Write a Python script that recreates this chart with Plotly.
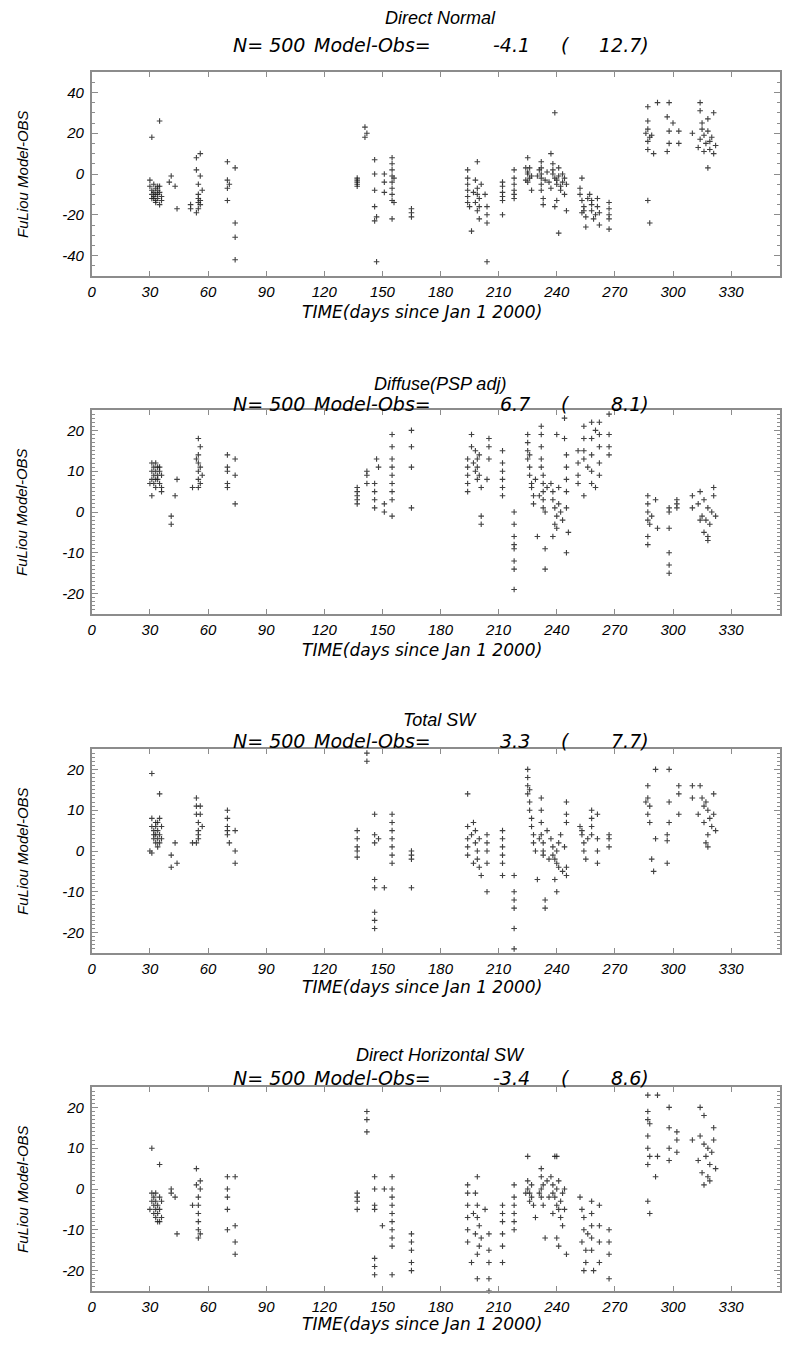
import plotly.graph_objects as go

# ---------------- data (day, Model-Obs) ----------------
direct_normal_pts = [
    (31,18),(35,26),(30,-3),(30,-6),(31,-8),(31,-10),(31,-12),(32,-5),(32,-9),(32,-11),(33,-7),(33,-13),(33,-14),
    (34,-8),(34,-10),(34,-12),(35,-6),(35,-9),(35,-15),(36,-11),(36,-13),(33,-10),(32,-12),(34,-6),
    (41,-1),(43,-6),(44,-17),(40,-4),
    (54,8),(56,10),(54,2),(56,-1),(55,-5),(55,-10),(55,-12),(55,-14),(56,-15),(55,-17),(54,-19),(51,-15),(51,-17),(56,-13),(57,-8),
    (70,6),(70,-3),(70,-7),(70,-13),(71,-5),(74,3),(74,-24),(74,-31),(74,-42),
    (137,-2),(137,-3),(137,-4),(137,-5),(137,-6),
    (141,23),(141,18),(142,20),
    (146,7),(146,0),(146,-8),(146,-16),(146,-23),(147,-43),(147,-21),
    (151,0),(151,-9),(151,-4),
    (155,8),(155,5),(155,2),(155,-1),(155,-4),(155,-7),(155,-10),(155,-13),(156,-14),(155,-22),(156,-2),
    (165,-17),(165,-19),(165,-21),
    (194,2),(194,-2),(194,-5),(194,-8),(194,-11),(194,-14),(195,-16),(196,-28),(199,6),(198,-3),(199,-7),(199,-10),
    (200,-12),(198,-14),(200,-16),(199,-18),(197,-9),(201,-5),(200,-22),
    (204,-16),(204,-20),(204,-24),(204,-43),(203,-10),
    (212,-4),(212,-6),(212,-9),(212,-11),(212,-13),(212,-20),
    (218,2),(218,-2),(218,-5),(218,-8),(218,-10),(218,-12),
    (225,8),(224,3),(225,1),(225,0),(226,-2),(225,-4),(227,-8),(226,3),(227,-1),(224,-3),
    (232,6),(232,3),(232,0),(232,-2),(232,-5),(232,-8),(233,-12),(233,-15),(230,-1),(231,2),(234,-3),(235,1),
    (239,30),(237,10),(238,5),(238,2),(238,0),(239,-2),(240,-3),(240,-5),(241,-1),(241,3),(242,-6),(242,-8),
    (243,0),(243,-4),(244,-10),(244,-2),(240,-13),(239,-16),(241,-29),(236,-4),(237,-7),(245,-18),(245,-5),
    (253,-2),(252,-7),(252,-10),(253,-13),(254,-16),(254,-18),(255,-21),(256,-12),(255,-26),(253,-19),
    (257,-10),(258,-13),(258,-15),(258,-18),(259,-22),(261,-12),(261,-16),(262,-19),(262,-25),(260,-20),
    (267,-14),(267,-17),(267,-20),(267,-22),(267,-27),
    (287,33),(287,26),(287,22),(288,18),(287,16),(289,19),(287,12),(290,10),(287,-13),(288,-24),(292,35),(286,20),
    (298,35),(297,28),(298,21),(298,15),(297,11),(303,21),(303,15),(300,25),
    (310,20),(314,35),(314,31),(318,27),(321,30),(315,22),(316,19),(314,17),(317,15),(319,12),(320,18),
    (321,10),(318,21),(313,13),(316,11),(319,16),(322,14),(318,3),(315,25),
]

diffuse_pts = [
    (31,12),(31,10),(31,8),(32,11),(32,9),(32,7),(33,12),(33,10),(33,6),(34,9),(34,8),(35,11),(35,7),(35,10),
    (36,9),(36,6),(31,4),(36,5),(30,7),(33,8),(34,11),
    (41,-1),(41,-3),(43,4),(44,8),
    (55,18),(56,16),(55,14),(55,12),(55,10),(56,11),(55,8),(56,7),(55,6),(54,13),(52,6),(57,9),
    (70,14),(70,11),(70,10),(70,7),(70,6),(74,13),(74,9),(74,2),
    (137,6),(137,5),(137,4),(137,3),(137,2),
    (142,10),(142,9),(142,7),
    (147,13),(146,7),(146,5),(146,3),(146,1),(148,11),
    (151,2),(151,0),
    (155,19),(155,16),(155,13),(155,11),(155,9),(155,7),(155,5),(155,3),(155,-1),
    (165,20),(165,16),(165,11),(165,1),
    (194,13),(194,11),(194,9),(194,7),(194,5),(196,16),(196,19),(198,15),(199,13),(199,11),(200,9),(198,10),
    (200,14),(199,8),(201,6),(201,-1),(201,-3),(197,12),
    (205,18),(205,16),(205,13),(204,8),
    (212,15),(212,12),(212,10),(212,8),(212,6),(212,4),
    (218,0),(218,-3),(218,-6),(218,-8),(218,-9),(218,-12),(218,-14),(218,-19),
    (225,19),(225,17),(225,15),(225,13),(226,11),(226,9),(227,7),(227,6),(228,4),(228,2),(226,14),(230,-6),(229,8),
    (232,21),(232,19),(232,16),(232,13),(232,11),(233,9),(233,7),(233,5),(233,3),(233,1),(234,0),(234,-9),
    (234,-14),(231,4),(235,6),
    (240,19),(244,23),(244,18),(237,7),(238,5),(238,3),(239,1),(240,-1),(240,-4),(241,2),(241,6),(242,0),
    (239,-3),(243,-2),(238,-6),(245,14),(245,11),(245,8),(245,5),(245,1),(246,-5),(245,-10),
    (251,15),(251,12),(251,9),(251,7),(254,21),(254,18),(254,15),(254,13),(254,4),(258,22),(258,18),(258,14),
    (258,10),(258,7),(262,22),(262,19),(262,16),(262,12),(262,9),(260,6),(256,11),(260,20),
    (267,24),(267,19),(267,16),(267,14),
    (287,4),(287,2),(287,0),(287,-2),(288,-3),(287,-6),(287,-8),(291,3),(292,-4),(289,-1),
    (298,1),(298,0),(298,-4),(298,-10),(298,-13),(298,-15),(302,3),(302,2),(302,1),
    (310,4),(310,1),(314,5),(316,3),(318,1),(315,-1),(317,-2),(319,-3),(320,0),(321,6),(321,4),(316,-5),
    (318,-6),(318,-7),(314,-2),(322,-1),(313,2),
]

total_sw_pts = [
    (31,19),(35,14),(31,8),(31,6),(32,5),(32,4),(32,3),(33,7),(33,6),(33,2),(34,5),(34,3),(34,1),(35,8),
    (35,4),(35,2),(36,6),(36,3),(30,0),(31,-0.5),(33,4),(34,7),
    (41,-1),(41,-4),(43,2),(44,-3),
    (54,13),(54,11),(54,9),(55,7),(55,5),(55,4),(55,3),(56,11),(56,9),(54,2),(52,2),(57,6),
    (70,10),(70,8),(70,6),(70,5),(70,4),(71,2),(74,5),(74,0),(74,-3),
    (137,5),(137,3),(137,1),(137,0),(137,-1.5),
    (142,24),(142,22),
    (146,9),(146,4),(146,2),(148,3),(146,-7),(146,-9),(151,-9),(146,-15),(146,-17),(146,-19),
    (155,9),(155,7),(155,5),(155,3),(155,1),(155,-1),(155,-3),
    (165,0),(165,-1),(165,-2),(165,-9),
    (194,14),(194,6),(194,3),(194,1),(194,-1),(196,4),(197,7),(198,2),(199,0),(199,-2),(200,-4),(198,5),
    (200,3),(201,-6),(197,-3),
    (204,4),(204,2),(204,0),(204,-3),(204,-10),
    (212,5),(212,3),(212,1),(212,-1),(212,-3),(212,-6),
    (218,-6),(218,-10),(218,-12),(218,-14),(218,-19),(218,-24),
    (225,20),(225,18),(225,16),(225,14),(226,12),(226,10),(227,8),(227,6),(228,4),(228,2),(229,0),(230,-7),(226,15),
    (232,13),(232,10),(232,7),(232,4),(233,2),(233,0),(233,-1),(234,-12),(234,-14),(231,3),(235,5),
    (237,3),(238,1),(238,-1),(239,-2),(240,-3),(240,0),(241,2),(241,-4),(242,4),(243,-5),(240,-10),(239,-7),
    (245,12),(245,9),(245,7),(245,-4),(245,-6),(244,1),(236,-2),
    (252,6),(253,4),(254,2),(254,0),(255,-2),(253,5),(258,10),(258,8),(258,6),(258,4),(261,9),(261,3),
    (261,0),(261,-3),(256,3),
    (267,4),(267,3),(267,1),
    (287,16),(287,13),(288,11),(287,9),(288,7),(291,20),(291,3),(289,-2),(290,-5),(286,12),
    (298,20),(298,12),(298,7),(297,4),(297,2.5),(297,-3),(303,16),(303,14),(303,9),
    (310,16),(310,13),(314,16),(315,13),(317,12),(318,10),(316,11),(319,8),(320,6),(321,14),(321,9),
    (318,4),(317,2),(318,1),(313,9),(322,5),(316,7),
]

direct_horiz_pts = [
    (31,10),(35,6),(31,-1),(31,-3),(32,-2),(32,-4),(32,-6),(33,-3),(33,-5),(33,-7),(34,-4),(34,-6),(34,-8),
    (35,-2),(35,-5),(36,-7),(36,-3),(30,-5),(33,-1),(35,-8),
    (41,0),(41,-1),(43,-2),(44,-11),
    (54,5),(56,2),(54,1),(56,0),(55,-2),(55,-4),(55,-6),(55,-8),(55,-10),(55,-12),(52,-4),(56,-11),
    (70,3),(70,0),(70,-2),(70,-5),(70,-10),(74,3),(74,-9),(74,-13),(74,-16),
    (137,-1),(137,-2),(137,-3),(137,-5),
    (142,19),(142,17),(142,14),
    (146,3),(146,0),(146,-4),(146,-5),(151,0),(150,-9),(146,-17),(146,-19),(146,-21),
    (155,3),(155,0),(155,-2),(155,-4),(155,-6),(155,-8),(155,-10),(155,-12),(155,-14),(155,-21),
    (165,-11),(165,-13),(165,-15),(165,-18),(165,-20),
    (194,1),(194,-1),(194,-4),(194,-7),(194,-10),(194,-13),(196,-18),(199,3),(198,-1),(199,-4),(199,-7),
    (200,-9),(198,-11),(200,-14),(199,-16),(197,-6),(199,-22),(201,-12),
    (205,-11),(205,-15),(205,-18),(205,-22),(205,-25),(203,-5),
    (212,-4),(212,-6),(212,-8),(212,-11),(212,-14),(212,-18),
    (218,1),(218,-2),(218,-4),(218,-6),(218,-8),(218,-10),
    (225,8),(225,2),(225,0),(226,-1),(226,-3),(227,1),(227,-2),(228,-4),(229,-7),(224,-1),
    (232,5),(232,3),(232,0),(232,-2),(233,-4),(233,1),(234,-12),(231,-1),(235,2),
    (239,8),(240,8),(237,3),(238,1),(238,-1),(239,-2),(240,-4),(240,0),(241,2),(241,-5),(242,-3),(242,-7),
    (243,-1),(243,-9),(244,0),(240,-12),(241,-14),(245,-16),(238,-6),(236,-2),(244,-5),
    (252,-2),(253,-5),(254,-7),(254,-10),(253,-13),(255,-15),(255,-18),(254,-20),(258,-3),(258,-6),(258,-9),
    (258,-12),(258,-15),(259,-20),(262,-4),(262,-9),(262,-13),(262,-18),(256,-11),
    (267,-10),(267,-13),(267,-16),(267,-22),
    (287,23),(287,19),(287,17),(288,16),(287,13),(287,10),(288,8),(287,6),(291,3),(287,-3),(288,-6),(292,23),(292,8),
    (298,20),(298,15),(298,10),(298,7),(302,14),(302,12),(302,9),
    (310,12),(314,20),(316,18),(321,15),(314,13),(316,11),(318,10),(317,8),(319,6),(320,9),(321,12),
    (315,4),(318,3),(319,2),(313,7),(322,5),(316,1),
]

panel_names = ["Direct Normal", "Diffuse(PSP adj)", "Total SW", "Direct Horizontal SW"]
panel_n = [500, 500, 500, 500]
panel_bias = ["-4.1", "6.7", "3.3", "-3.4"]
panel_rms = ["12.7", "8.1", "7.7", "8.6"]
panel_points = [direct_normal_pts, diffuse_pts, total_sw_pts, direct_horiz_pts]
x_ticks = [0, 30, 60, 90, 120, 150, 180, 210, 240, 270, 300, 330]
y_ranges = [(-50, 50), (-25, 25), (-25, 25), (-25, 25)]
y_ticks = [[-40, -20, 0, 20, 40], [-20, -10, 0, 10, 20], [-20, -10, 0, 10, 20], [-20, -10, 0, 10, 20]]
y_minor = [5, 1, 1, 1]
x_title = "TIME(days since Jan 1 2000)"
y_title = "FuLiou Model-OBS"

# ---------------- layout geometry (page pixels) ----------------
PAGE_OFF = 8                 # default body margin of the html page
W, H = 774, 1333             # figure size so the page does not overflow
plot_left, plot_right = 88.3, 781
px_per_day = 1.95
x_end = (plot_right - plot_left) / px_per_day
panel_tops = [72, 410, 749, 1087]
panel_h = 204
title1_y = [18, 384, 720, 1055]
title2_y = [45, 404, 741, 1078]
xtitle_y = [312, 650, 987, 1324]


def fx(p):
    return (p - PAGE_OFF) / W


def fy(p):
    return 1 - (p - PAGE_OFF) / H


FONT = "Liberation Sans"
WIDE = "DejaVu Sans"
AX_COLOR = "#8c8c8c"

fig = go.Figure()
annotations = []


def ann(text, x, y, xanchor="center", size=17, family=FONT, angle=0):
    annotations.append(dict(text=text, x=fx(x), y=fy(y), xref="paper", yref="paper", showarrow=False,
                            xanchor=xanchor, yanchor="middle", textangle=angle,
                            font=dict(family=family, size=size, color="black", style="italic")))


for i in range(4):
    n = i + 1
    xs = [p[0] for p in panel_points[i]]
    ys = [p[1] for p in panel_points[i]]
    fig.add_trace(go.Scatter(
        x=xs, y=ys, mode="markers",
        xaxis="x" if n == 1 else f"x{n}", yaxis="y" if n == 1 else f"y{n}",
        marker=dict(symbol="cross-thin", size=4,
                    line=dict(width=1.1, color="rgba(30,30,30,0.85)")),
        showlegend=False, hoverinfo="skip", cliponaxis=False,
    ))
    top = panel_tops[i]
    bot = top + panel_h
    xa = dict(
        domain=[fx(plot_left), fx(plot_right)], range=[0, x_end],
        tickmode="array", tickvals=x_ticks, ticktext=[str(t) for t in x_ticks],
        ticks="inside", ticklen=5, tickwidth=1, tickcolor=AX_COLOR,
        showline=True, linecolor=AX_COLOR, linewidth=1.6, mirror="ticks",
        showgrid=False, zeroline=False, ticklabelstandoff=1,
        tickfont=dict(family=FONT, size=15, color="black", style="italic"),
        anchor="y" if n == 1 else f"y{n}",
    )
    ya = dict(
        domain=[fy(bot), fy(top)], range=list(y_ranges[i]),
        tickmode="array", tickvals=y_ticks[i], ticktext=[str(t) for t in y_ticks[i]],
        ticks="inside", ticklen=6, tickwidth=1, tickcolor=AX_COLOR,
        minor=dict(dtick=y_minor[i], tick0=0, ticks="inside", ticklen=3, tickcolor=AX_COLOR, showgrid=False),
        showline=True, linecolor=AX_COLOR, linewidth=1.6, mirror="ticks",
        showgrid=False, zeroline=False, ticklabelstandoff=3,
        tickfont=dict(family=FONT, size=15, color="black", style="italic"),
        anchor="x" if n == 1 else f"x{n}",
    )
    fig.update_layout(**{("xaxis" if n == 1 else f"xaxis{n}"): xa,
                         ("yaxis" if n == 1 else f"yaxis{n}"): ya})

    ann(panel_names[i], 439, title1_y[i], size=18)
    ann(f"N= {panel_n[i]}", 228, title2_y[i], xanchor="left", size=19, family=WIDE)
    ann("Model-Obs=", 310, title2_y[i], xanchor="left", size=19, family=WIDE)
    ann(panel_bias[i], 531, title2_y[i], xanchor="right", size=19, family=WIDE)
    ann("(", 559, title2_y[i], xanchor="left", size=19, family=WIDE)
    ann(panel_rms[i] + ")", 651, title2_y[i], xanchor="right", size=19, family=WIDE)
    ann(x_title, 421, xtitle_y[i], size=17, family=WIDE)
    ann(y_title, 18, top + panel_h / 2, size=15, angle=-90)

fig.update_layout(
    width=W, height=H, margin=dict(l=0, r=0, t=0, b=0),
    paper_bgcolor="white", plot_bgcolor="white",
    annotations=annotations, showlegend=False,
)

fig.write_html("out.html")
